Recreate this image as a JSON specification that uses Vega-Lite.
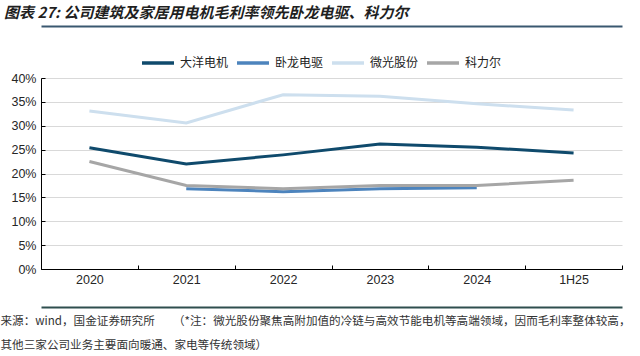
{
  "$schema": "https://vega.github.io/schema/vega-lite/v6.json",
  "width": 581,
  "height": 191,
  "autosize": {"type": "none"},
  "padding": {"left": 41, "top": 78, "right": 18, "bottom": 87},
  "background": "white",
  "config": {
    "view": {"stroke": null},
    "font": "Liberation Sans"
  },
  "title": {
    "text": "图表 27: 公司建筑及家居用电机毛利率领先卧龙电驱、科力尔",
    "orient": "top",
    "anchor": "start",
    "frame": "group",
    "dx": -37,
    "offset": 4,
    "font": "Noto Sans CJK SC",
    "fontSize": 15,
    "fontWeight": "bold",
    "fontStyle": "italic",
    "color": "#1f1f1f"
  },
  "data": {
    "values": [
      {"year": "2020", "company": "大洋电机", "margin": 25.4},
      {"year": "2021", "company": "大洋电机", "margin": 22.0},
      {"year": "2022", "company": "大洋电机", "margin": 23.9},
      {"year": "2023", "company": "大洋电机", "margin": 26.2},
      {"year": "2024", "company": "大洋电机", "margin": 25.5},
      {"year": "1H25", "company": "大洋电机", "margin": 24.3},
      {"year": "2021", "company": "卧龙电驱", "margin": 16.8},
      {"year": "2022", "company": "卧龙电驱", "margin": 16.2},
      {"year": "2023", "company": "卧龙电驱", "margin": 16.8},
      {"year": "2024", "company": "卧龙电驱", "margin": 17.0},
      {"year": "2020", "company": "微光股份", "margin": 33.1},
      {"year": "2021", "company": "微光股份", "margin": 30.6},
      {"year": "2022", "company": "微光股份", "margin": 36.5},
      {"year": "2023", "company": "微光股份", "margin": 36.2},
      {"year": "2024", "company": "微光股份", "margin": 34.6},
      {"year": "1H25", "company": "微光股份", "margin": 33.3},
      {"year": "2020", "company": "科力尔", "margin": 22.5},
      {"year": "2021", "company": "科力尔", "margin": 17.5},
      {"year": "2022", "company": "科力尔", "margin": 16.8},
      {"year": "2023", "company": "科力尔", "margin": 17.5},
      {"year": "2024", "company": "科力尔", "margin": 17.5},
      {"year": "1H25", "company": "科力尔", "margin": 18.6}
    ]
  },
  "encoding": {
    "y": {
      "field": "margin",
      "type": "quantitative",
      "scale": {"domain": [0, 40], "nice": false},
      "axis": {
        "title": null,
        "values": [0, 5, 10, 15, 20, 25, 30, 35, 40],
        "labelExpr": "datum.value + '%'",
        "labelFont": "Liberation Sans",
        "labelFontSize": 12.5,
        "labelColor": "#262626",
        "labelPadding": 9,
        "grid": true,
        "gridColor": "#d9d9d9",
        "gridWidth": 1,
        "domain": true,
        "domainColor": "#000000",
        "domainWidth": 1,
        "ticks": true,
        "tickSize": -4,
        "tickColor": "#000000"
      }
    }
  },
  "layer": [
    {
      "mark": {"type": "line", "strokeWidth": 3},
      "encoding": {
        "x": {
          "field": "year",
          "type": "ordinal",
          "scale": {"type": "band", "domain": ["2020", "2021", "2022", "2023", "2024", "1H25"], "paddingInner": 0, "paddingOuter": 0},
          "axis": {
            "title": null,
            "orient": "bottom",
            "labelAngle": 0,
            "labelFont": "Liberation Sans",
            "labelFontSize": 12.5,
            "labelColor": "#262626",
            "labelPadding": 8,
            "domainColor": "#000000",
            "domainWidth": 1,
            "tickBand": "extent",
            "tickSize": -4,
            "tickColor": "#000000",
            "grid": false
          }
        },
        "color": {
          "field": "company",
          "type": "nominal",
          "scale": {
            "domain": ["大洋电机", "卧龙电驱", "微光股份", "科力尔"],
            "range": ["#0f4a6c", "#4d84bd", "#cddfee", "#a6a6a6"]
          },
          "legend": {
            "title": null,
            "orient": "none",
            "direction": "horizontal",
            "legendX": 99,
            "legendY": -33,
            "symbolType": "stroke",
            "symbolSize": 1024,
            "symbolStrokeWidth": 3.5,
            "labelFont": "Noto Sans CJK SC",
            "labelFontSize": 12,
            "labelColor": "#222222",
            "labelOffset": 4,
            "columnPadding": 1
          }
        }
      }
    },
    {
      "mark": {"type": "point", "opacity": 0},
      "encoding": {
        "x": {
          "field": "year",
          "type": "ordinal",
          "axis": {
            "title": null,
            "orient": "top",
            "offset": 52,
            "labels": true,
            "labelOpacity": 0,
            "labelFontSize": 1,
            "labelPadding": 0,
            "labelAngle": 0,
            "ticks": true,
            "tickOpacity": 0,
            "tickSize": 0,
            "domain": true,
            "domainColor": "#3a5870",
            "domainWidth": 2
          }
        }
      }
    },
    {
      "mark": {"type": "point", "opacity": 0},
      "encoding": {
        "x": {
          "field": "year",
          "type": "ordinal",
          "axis": {
            "orient": "bottom",
            "offset": 38,
            "labels": false,
            "ticks": false,
            "domain": true,
            "domainColor": "darkslategray",
            "domainWidth": 2,
            "title": [
              "来源：wind，国金证券研究所\u00a0\u00a0\u00a0\u00a0\u00a0\u00a0\u00a0（*注：微光股份聚焦高附加值的冷链与高效节能电机等高端领域，因而毛利率整体较高，",
              "其他三家公司业务主要面向暖通、家电等传统领域）"
            ],
            "titleAnchor": "start",
            "titleAlign": "left",
            "titleBaseline": "top",
            "titleAngle": 0,
            "titleX": -41,
            "titleY": 8,
            "titleLineHeight": 24,
            "titleFont": "Noto Sans CJK SC",
            "titleFontSize": 11.6,
            "titleFontWeight": "normal",
            "titleColor": "#333333"
          }
        }
      }
    }
  ],
  "resolve": {"axis": {"x": "independent"}}
}
